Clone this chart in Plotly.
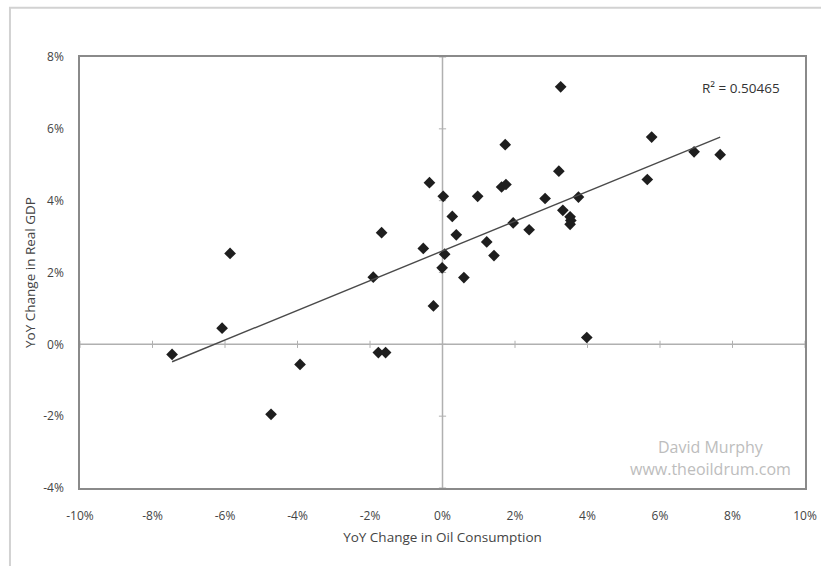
import numpy as np
import plotly.graph_objects as go

# YoY change in oil consumption (%) and real GDP (%)
oil = [-7.46, -6.08, -5.86, -4.73, -3.93, -1.68, -1.91, -1.77, -1.57, -0.53,
       -0.36, -0.25, 0.02, 0.06, -0.01, 3.26, 5.77, 6.94, 7.66, 5.65,
       1.73, 3.21, 0.97, 1.63, 1.75, 2.83, 3.75, 0.27, 3.32, 3.52,
       3.54, 3.52, 1.95, 2.39, 0.38, 1.22, 1.42, 0.59, 3.98]
gdp = [-0.28, 0.45, 2.53, -1.95, -0.56, 3.11, 1.87, -0.23, -0.23, 2.67,
       4.50, 1.07, 4.12, 2.51, 2.13, 7.17, 5.77, 5.36, 5.28, 4.59,
       5.56, 4.82, 4.12, 4.38, 4.45, 4.06, 4.10, 3.56, 3.73, 3.55,
       3.45, 3.34, 3.38, 3.19, 3.05, 2.85, 2.47, 1.86, 0.19]

x_ticks = [-10, -8, -6, -4, -2, 0, 2, 4, 6, 8, 10]
y_ticks = [-4, -2, 0, 2, 4, 6, 8]
x_tick_labels = [f"{v}%" for v in x_ticks]
y_tick_labels = [f"{v}%" for v in y_ticks]
r2_label = "R² = 0.50465"
x_title = "YoY Change in Oil Consumption"
y_title = "YoY Change in Real GDP"
credit_lines = ["David Murphy", "www.theoildrum.com"]

FONT = "'Open Sans', Lato, sans-serif"

# linear trendline from data
slope, intercept = np.polyfit(oil, gdp, 1)
tx = np.array([min(oil), max(oil)])
ty = slope * tx + intercept

fig = go.Figure()

fig.add_trace(go.Scatter(
    x=oil, y=gdp, mode="markers",
    marker=dict(symbol="diamond", size=9, color="#1e1e1e"),
    showlegend=False, hoverinfo="x+y",
))
fig.add_trace(go.Scatter(
    x=tx, y=ty, mode="lines",
    line=dict(color="#4a4a4a", width=1.4),
    showlegend=False, hoverinfo="skip",
))

shapes = []
# zero axes lines
shapes.append(dict(type="line", xref="x", yref="paper", x0=0, x1=0, y0=0, y1=1,
                   line=dict(color="#b0b0b0", width=1.5), layer="below"))
shapes.append(dict(type="line", xref="paper", yref="y", x0=0, x1=1, y0=0, y1=0,
                   line=dict(color="#b0b0b0", width=1.5), layer="below"))
# cross tick marks on the zero axes
for v in x_ticks:
    shapes.append(dict(type="line", xref="x", yref="y", x0=v, x1=v, y0=-0.1, y1=0.1,
                       line=dict(color="#b0b0b0", width=1), layer="below"))
for v in y_ticks:
    shapes.append(dict(type="line", xref="x", yref="y", x0=-0.1, x1=0.1, y0=v, y1=v,
                       line=dict(color="#b0b0b0", width=1), layer="below"))
# outer chart border
shapes.append(dict(type="rect", xref="paper", yref="paper",
                   x0=-0.0966, x1=1.08, y0=-0.3, y1=1.114,
                   line=dict(color="#d2d2d2", width=2), layer="below"))

annotations = [
    dict(text=r2_label, xref="x", yref="y", x=8.23, y=7.15, showarrow=False,
         xanchor="center", font=dict(family=FONT, size=13.5, color="#333")),
    dict(text=credit_lines[0], xref="paper", yref="paper", x=0.87, y=0.065,
         showarrow=False, xanchor="center", font=dict(family=FONT, size=16, color="#bdbdbd")),
    dict(text=credit_lines[1], xref="paper", yref="paper", x=0.87, y=0.013,
         showarrow=False, xanchor="center", font=dict(family=FONT, size=16, color="#bdbdbd")),
]

fig.update_layout(
    width=821, height=566,
    margin=dict(l=80, r=16, t=57, b=78),
    paper_bgcolor="white", plot_bgcolor="white",
    font=dict(family=FONT, size=12, color="#444"),
    shapes=shapes, annotations=annotations,
    xaxis=dict(
        range=[-10, 10], tickmode="array", tickvals=x_ticks, ticktext=x_tick_labels,
        showgrid=False, zeroline=False, automargin=False,
        showline=True, mirror=True, linecolor="#8a8a8a", linewidth=1.5,
        ticks="", tickfont=dict(size=12, color="#444"), ticklabelstandoff=16,
        title=dict(text=x_title, font=dict(size=13.5, color="#444"), standoff=9),
    ),
    yaxis=dict(
        range=[-4, 8], tickmode="array", tickvals=y_ticks, ticktext=y_tick_labels,
        showgrid=False, zeroline=False, automargin=False,
        showline=True, mirror=True, linecolor="#8a8a8a", linewidth=1.5,
        ticks="", tickfont=dict(size=12, color="#444"), ticklabelstandoff=12,
        title=dict(text=y_title, font=dict(size=13.5, color="#444"), standoff=4),
    ),
)

fig.write_html("out.html")
